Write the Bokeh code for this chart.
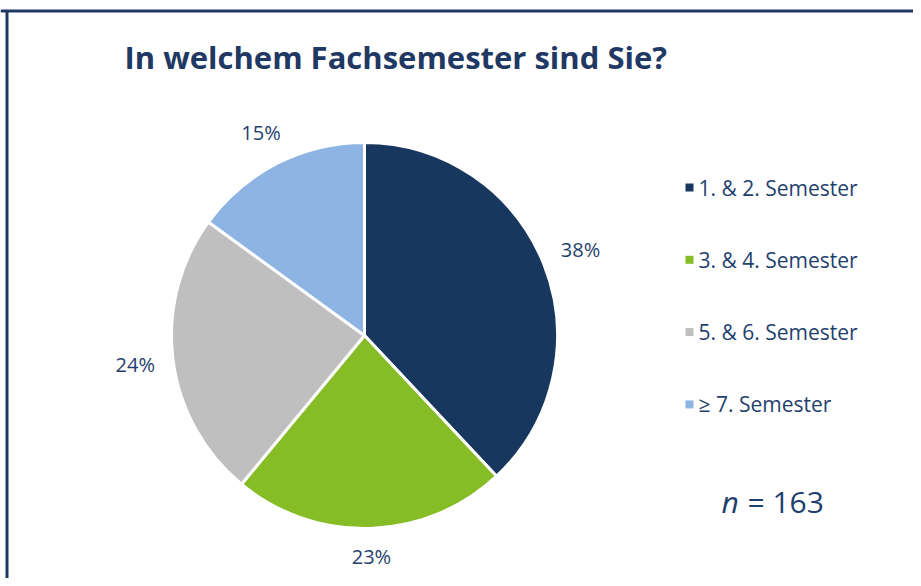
from bokeh.plotting import figure
from bokeh.models import Range1d
from bokeh.core.properties import value
from bokeh.embed import file_html
from bokeh.resources import INLINE
import math

# ---- data ----
categories = ["1. & 2. Semester", "3. & 4. Semester", "5. & 6. Semester", "\u2265 7. Semester"]
percents = [38, 23, 24, 15]
colors = ["#17375E", "#86BC25", "#BFBFBF", "#8EB4E3"]
title_text = "In welchem Fachsemester sind Sie?"
n_total = 163

W, H = 913, 578
TXT = "#1F3F6E"
NAVY = "#1F3864"
FONT = "Open Sans"

p = figure(width=W, height=H, output_backend="svg", toolbar_location=None,
           x_range=Range1d(0, W), y_range=Range1d(0, H), min_border=0)
p.axis.visible = False
p.grid.visible = False
p.outline_line_color = None
p.background_fill_color = "white"
p.border_fill_color = "white"

def X(ix):
    return ix

def Y(iy):
    return H - iy

# frame (top and left edges visible)
p.segment(x0=[0, 6.5], y0=[Y(10.5), Y(10.5)], x1=[W, 6.5], y1=[Y(10.5), 0],
          line_color=NAVY, line_width=3)

# title
p.text(x=[X(124)], y=[Y(56)], text=[title_text], text_font=value(FONT),
       text_font_style="bold", text_font_size="31px", text_color=NAVY,
       text_baseline="middle", text_align="left")

# pie
cx, cy, R = X(364), Y(335), 193
total = sum(percents)
cum = 0.0
starts, ends, mids = [], [], []
for v in percents:
    a0 = math.pi / 2 - 2 * math.pi * cum / total
    cum += v
    a1 = math.pi / 2 - 2 * math.pi * cum / total
    starts.append(a0)
    ends.append(a1)
    mids.append((a0 + a1) / 2)

p.wedge(x=[cx] * len(percents), y=[cy] * len(percents), radius=R, radius_units="screen",
        start_angle=starts, end_angle=ends, direction="clock",
        fill_color=colors, line_color="white", line_width=3)

# percentage labels: placed outside the slice, offset by the label box extent
gap, half_w, half_h = 17, 20, 10
lx, ly = [], []
for m in mids:
    r = R + gap + abs(math.cos(m)) * half_w + abs(math.sin(m)) * half_h
    lx.append(cx + r * math.cos(m))
    ly.append(cy + r * math.sin(m))
p.text(x=lx, y=ly, text=[f"{v}%" for v in percents], text_font=value(FONT),
       text_font_size="20px", text_color=TXT, text_align="center", text_baseline="middle")

# legend
leg_y = [Y(187) - i * 72.3 for i in range(len(categories))]
p.scatter(x=[X(689)] * len(categories), y=leg_y, marker="square", size=8,
          fill_color=colors, line_color=None)
p.text(x=[X(698)] * len(categories), y=leg_y, text=categories, text_font=value(FONT),
       text_font_size="21px", text_color=TXT, text_align="left", text_baseline="middle")

# n
p.text(x=[X(721)], y=[Y(501)], text=["n"], text_font=value(FONT), text_font_style="italic",
       text_font_size="30px", text_color=TXT, text_align="left", text_baseline="middle")
p.text(x=[X(747)], y=[Y(501)], text=[f"= {n_total}"], text_font=value(FONT),
       text_font_size="30px", text_color=TXT, text_align="left", text_baseline="middle")

open("out.html", "w").write(file_html(p, INLINE))
